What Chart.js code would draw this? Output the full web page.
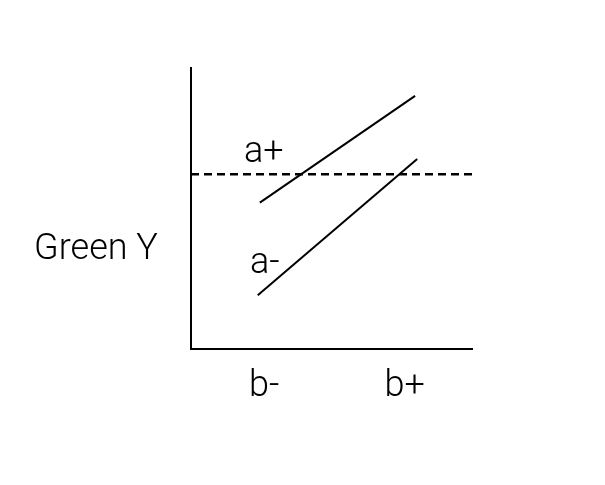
<!DOCTYPE html>
<html>
<head>
<meta charset="utf-8">
<script src="https://cdn.jsdelivr.net/npm/chart.js@4.4.1/dist/chart.umd.min.js"></script>
<style>
  html, body { margin: 0; padding: 0; background: #fff; }
  #wrap { width: 605px; height: 485px; }
</style>
</head>
<body>
<div id="wrap"><canvas id="chart" width="605" height="485"></canvas></div>
<script>
// ===== DATA =====
const xTicks = [1.04, 3.04];
const xTickLabels = ['b-', 'b+'];
const seriesNames = ['a+', 'a-'];
const aPlusX = [0.98, 3.19];
const aPlusY = [5.21, 9.01];
const aMinusX = [0.95, 3.22];
const aMinusY = [1.91, 6.76];
const refX = [0, 4];
const refY = [6.22, 6.22];
const yTitle = 'Green Y';

const FONT = 'Roboto, "Liberation Sans", sans-serif';
const toPoints = (xs, ys) => xs.map((x, i) => ({ x, y: ys[i] }));

// ===== LABELS (series names + horizontal y title) =====
const textPlugin = {
  id: 'textPlugin',
  afterDraw(chart) {
    const { ctx, chartArea } = chart;
    const xs = chart.scales.x, ys = chart.scales.y;
    ctx.save();
    ctx.fillStyle = '#000';
    ctx.font = '300 36px ' + FONT;
    ctx.textAlign = 'center';
    ctx.textBaseline = 'alphabetic';
    // series names sit above the first point of each line
    const offsets = [[4, -41], [7, -22]];
    [[aPlusX, aPlusY], [aMinusX, aMinusY]].forEach(([px, py], i) => {
      const x = xs.getPixelForValue(px[0]) + offsets[i][0];
      const y = ys.getPixelForValue(py[0]) + offsets[i][1];
      ctx.fillText(seriesNames[i], x, y);
    });
    ctx.fillText(yTitle, chartArea.left - 95, chartArea.top + 191);
    ctx.restore();
  }
};

new Chart(document.getElementById('chart'), {
  type: 'scatter',
  data: {
    datasets: [
      { label: seriesNames[0], data: toPoints(aPlusX, aPlusY), showLine: true, borderColor: '#000', borderWidth: 2, pointRadius: 0 },
      { label: seriesNames[1], data: toPoints(aMinusX, aMinusY), showLine: true, borderColor: '#000', borderWidth: 2, pointRadius: 0 },
      { label: 'ref', data: toPoints(refX, refY), showLine: true, borderColor: '#000', borderWidth: 2.5, borderDash: [8, 5], pointRadius: 0 }
    ]
  },
  options: {
    responsive: false,
    animation: false,
    layout: { padding: { left: 191, right: 133, top: 68, bottom: 0 } },
    plugins: { legend: { display: false }, tooltip: { enabled: false } },
    scales: {
      x: {
        type: 'linear', min: 0, max: 4,
        grid: { display: false, drawTicks: false },
        border: { display: true, color: '#000', width: 2 },
        afterBuildTicks: s => { s.ticks = xTicks.map(v => ({ value: v })); },
        afterFit: s => { s.height = 136; },
        ticks: {
          color: '#000', padding: 16,
          font: { family: FONT, size: 36, weight: 300 },
          callback: v => xTickLabels[xTicks.indexOf(v)] || ''
        }
      },
      y: {
        min: 0, max: 10,
        grid: { display: false, drawTicks: false },
        border: { display: true, color: '#000', width: 2 },
        ticks: { display: false },
        afterFit: s => { s.width = 0; }
      }
    }
  },
  plugins: [textPlugin]
});
</script>
</body>
</html>
